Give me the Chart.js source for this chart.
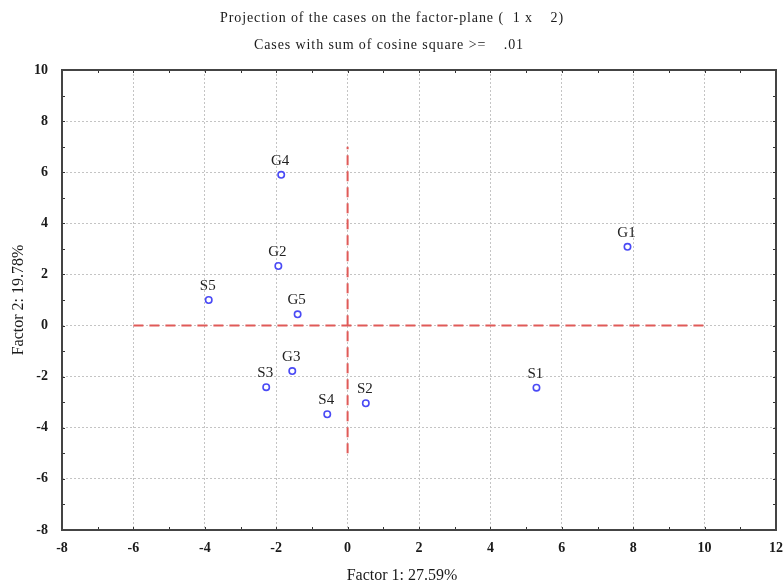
<!DOCTYPE html>
<html>
<head>
<meta charset="utf-8">
<script src="https://cdn.jsdelivr.net/npm/chart.js@4/dist/chart.umd.min.js"></script>
<style>
  html, body { margin: 0; padding: 0; background: #fff; }
  #wrap { width: 784px; height: 588px; }
</style>
</head>
<body>
<div id="wrap"><canvas id="c" width="784" height="588"></canvas></div>
<script>
// ---- data ----
const caseNames = ['G1', 'G2', 'G3', 'G4', 'G5', 'S1', 'S2', 'S3', 'S4', 'S5'];
const factor1   = [7.84, -1.94, -1.55, -1.86, -1.40, 5.29, 0.51, -2.28, -0.57, -3.89];
const factor2   = [3.08, 2.33, -1.78, 5.90, 0.44, -2.43, -3.04, -2.41, -3.47, 1.00];
const hLineX = [-6, 10];   // horizontal reference line (Factor 2 = 0)
const hLineY = [0, 0];
const vLineX = [0, 0];     // vertical reference line (Factor 1 = 0)
const vLineY = [-5, 7];
const xTicks = [-8, -6, -4, -2, 0, 2, 4, 6, 8, 10, 12];
const yTicks = [-8, -6, -4, -2, 0, 2, 4, 6, 8, 10];
const titleLines = ['Projection of the cases on the factor-plane (  1 x    2)', 'Cases with sum of cosine square >=    .01'];
const xTitle = 'Factor 1: 27.59%';
const yTitle = 'Factor 2: 19.78%';

const serif = '"Liberation Serif", "Times New Roman", serif';

const points = caseNames.map((n, i) => ({ x: factor1[i], y: factor2[i], name: n }));

const framePlugin = {
  id: 'frame',
  afterDatasetsDraw(chart) {
    const { ctx, chartArea: a, scales: { x, y } } = chart;
    ctx.save();
    // minor / major ticks on all four sides, inward
    ctx.strokeStyle = '#333';
    ctx.lineWidth = 1;
    ctx.beginPath();
    for (let v = x.min; v <= x.max; v += 1) {
      const px = Math.round(x.getPixelForValue(v)) + 0.5;
      ctx.moveTo(px, a.bottom); ctx.lineTo(px, a.bottom - 3);
      ctx.moveTo(px, a.top); ctx.lineTo(px, a.top + 3);
    }
    for (let v = y.min; v <= y.max; v += 1) {
      const py = Math.round(y.getPixelForValue(v)) + 0.5;
      ctx.moveTo(a.left, py); ctx.lineTo(a.left + 3, py);
      ctx.moveTo(a.right, py); ctx.lineTo(a.right - 3, py);
    }
    ctx.stroke();
    // frame
    ctx.strokeStyle = '#444';
    ctx.lineWidth = 2;
    ctx.strokeRect(a.left, a.top, a.right - a.left, a.bottom - a.top);
    // point labels
    const meta = chart.getDatasetMeta(2);
    ctx.fillStyle = '#222';
    ctx.font = '15px ' + serif;
    ctx.textAlign = 'center';
    ctx.textBaseline = 'middle';
    meta.data.forEach((el, i) => {
      ctx.fillText(caseNames[i], el.x - 1, el.y - 14);
    });
    // titles
    ctx.fillStyle = '#1a1a1a';
    ctx.font = '14px ' + serif;
    ctx.letterSpacing = '0.9px';
    ctx.fillText(titleLines[0], 392, 18);
    ctx.fillText(titleLines[1], 389, 45);
    ctx.letterSpacing = '0px';
    // axis titles
    ctx.font = '16px ' + serif;
    ctx.fillText(xTitle, 402, 576);
    ctx.translate(19, 300);
    ctx.rotate(-Math.PI / 2);
    ctx.fillText(yTitle, 0, 0);
    ctx.restore();
  }
};

new Chart(document.getElementById('c'), {
  type: 'scatter',
  data: {
    datasets: [
      {
        type: 'line',
        data: hLineX.map((v, i) => ({ x: v, y: hLineY[i] })),
        borderColor: '#e05a58',
        borderWidth: 2,
        borderDash: [10, 6],
        pointRadius: 0,
        fill: false,
        showLine: true
      },
      {
        type: 'line',
        data: vLineX.map((v, i) => ({ x: v, y: vLineY[i] })),
        borderColor: '#e05a58',
        borderWidth: 2,
        borderDash: [10, 6],
        pointRadius: 0,
        fill: false,
        showLine: true
      },
      {
        data: points,
        pointStyle: 'circle',
        pointRadius: 3.2,
        pointBorderWidth: 1.6,
        borderColor: '#4a4af5',
        backgroundColor: '#ffffff',
        pointBackgroundColor: '#ffffff',
        pointBorderColor: '#4a4af5'
      }
    ]
  },
  options: {
    responsive: false,
    animation: false,
    devicePixelRatio: 1,
    layout: { padding: { left: 0, right: 8, top: 70, bottom: 0 } },
    plugins: {
      legend: { display: false },
      tooltip: { enabled: false },
      title: { display: false }
    },
    scales: {
      x: {
        type: 'linear',
        min: -8, max: 12,
        afterBuildTicks(s) { s.ticks = xTicks.map(v => ({ value: v })); },
        afterFit(s) { s.height = 58; s.paddingRight = 0; s.paddingLeft = 0; },
        grid: { color: '#c4c4c4', lineWidth: 1, drawTicks: false },
        border: { display: false, dash: [2, 2] },
        ticks: { padding: 10, color: '#1a1a1a', font: { family: serif, size: 14, weight: 'bold' }, maxRotation: 0 }
      },
      y: {
        type: 'linear',
        min: -8, max: 10,
        afterBuildTicks(s) { s.ticks = yTicks.map(v => ({ value: v })); },
        afterFit(s) { s.width = 62; s.paddingTop = 0; s.paddingBottom = 0; },
        grid: { color: '#c4c4c4', lineWidth: 1, drawTicks: false },
        border: { display: false, dash: [2, 2] },
        ticks: { padding: 14, color: '#1a1a1a', font: { family: serif, size: 14, weight: 'bold' } }
      }
    }
  },
  plugins: [framePlugin]
});
</script>
</body>
</html>
